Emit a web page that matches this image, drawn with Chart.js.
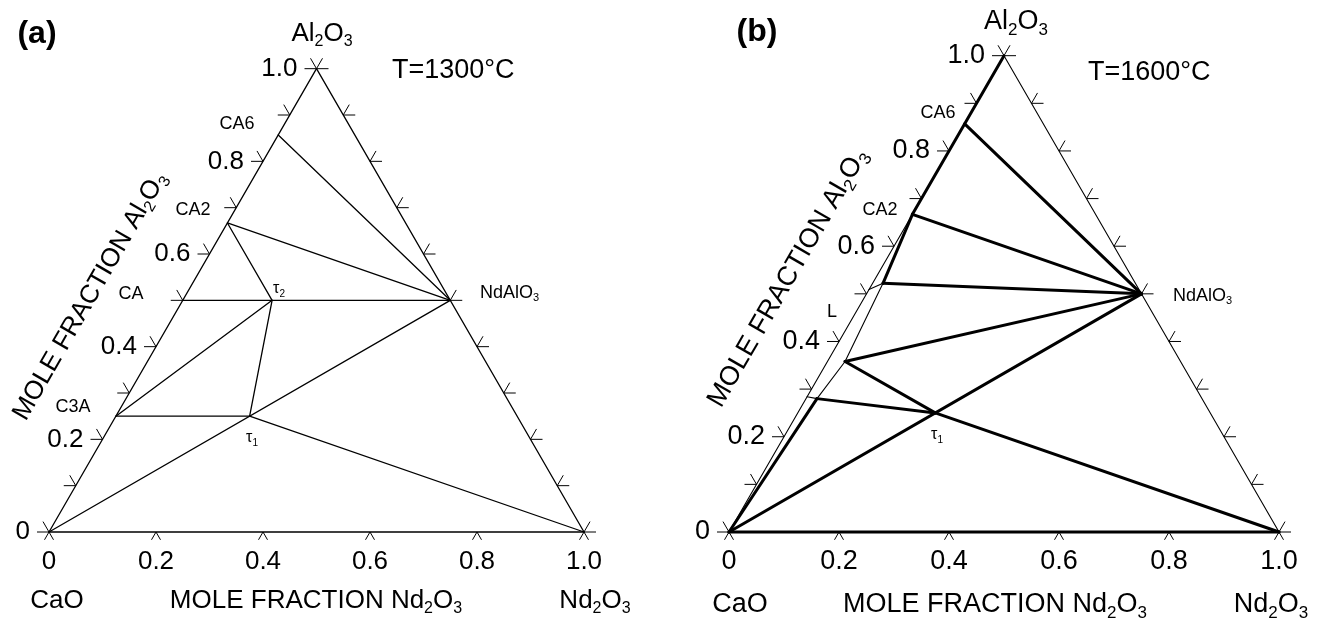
<!doctype html>
<html>
<head>
    <meta charset="utf-8">
    <title>CaO - Nd2O3 - Al2O3 isothermal sections</title>
    <script src="https://cdn.jsdelivr.net/npm/chart.js"></script>
    <style>
        body { margin: 0; background: #fff; }
        #wrap { width: 1318px; height: 619px; }
    </style>
</head>
<body>
<div id="wrap"><canvas id="myChart" width="1318" height="619"></canvas></div>

<script>
    // ---- data (mole fractions: Nd2O3, Al2O3; CaO is the rest) ----
    var axisLabelTicks = [0, 0.2, 0.4, 0.6, 0.8, 1.0];
    var axisLabelText = ['0', '0.2', '0.4', '0.6', '0.8', '1.0'];
    var sideTicks = [0, 0.1, 0.2, 0.3, 0.4, 0.5, 0.6, 0.7, 0.8, 0.9, 1.0];
    var bottomTicks = [0, 0.2, 0.4, 0.6, 0.8, 1.0];

    // panel (a) T = 1300 C
    var nodesA = ['CaO', 'Nd2O3', 'Al2O3', 'CA6', 'CA2', 'CA', 'C3A', 'tau2', 'tau1', 'NdAlO3'];
    var ndA = [0, 1, 0, 0, 0, 0, 0, 0.167, 0.25, 0.5];
    var alA = [0, 0, 1, 0.857, 0.667, 0.5, 0.25, 0.5, 0.25, 0.5];
    var linesA = [
        ['CaO', 'Nd2O3'], ['CaO', 'Al2O3'], ['Al2O3', 'Nd2O3'],
        ['CA6', 'NdAlO3'], ['CA2', 'NdAlO3'], ['CA2', 'tau2'], ['CA', 'NdAlO3'],
        ['C3A', 'tau2'], ['tau2', 'tau1'], ['C3A', 'tau1'], ['CaO', 'NdAlO3'], ['tau1', 'Nd2O3']
    ];

    // panel (b) T = 1600 C
    var nodesB = ['CaO', 'Nd2O3', 'Al2O3', 'CA6', 'CA2', 'tau1', 'NdAlO3', 'E1', 'Lp3', 'Lp2', 'Lp1', 'E2'];
    var ndB = [0, 1, 0, 0, 0, 0.25, 0.5, 0, 0.02, 0.032, 0.019, 0];
    var alB = [0, 0, 1, 0.857, 0.667, 0.25, 0.5, 0.284, 0.28, 0.358, 0.522, 0.509];
    var thinLinesB = [
        ['CaO', 'Al2O3'], ['Al2O3', 'Nd2O3'],
        ['E1', 'Lp3'], ['Lp3', 'Lp2'], ['Lp2', 'Lp1'], ['Lp1', 'E2']
    ];
    var thickLinesB = [
        ['CaO', 'Nd2O3'], ['Al2O3', 'CA2'], ['CA2', 'Lp1'], ['CaO', 'Lp3'],
        ['CA6', 'NdAlO3'], ['CA2', 'NdAlO3'], ['Lp1', 'NdAlO3'], ['Lp2', 'NdAlO3'],
        ['CaO', 'NdAlO3'], ['Lp2', 'tau1'], ['Lp3', 'tau1'], ['tau1', 'Nd2O3']
    ];

    // ---- layout ----
    var W = 1318, H = 619;
    var FONT = '"Liberation Sans", Arial, Helvetica, sans-serif';
    var panels = [
        {
            x: 'xa', y: 'ya', ox: 49, oy: 532, side: 535, labelSize: 26,
            tag: ['(a)', 37, 34], top: ['Al_2O_3', 322, 34], temp: ['T=1300°C', 392, 71],
            corners: [['CaO', 57, 601], ['MOLE FRACTION Nd_2O_3', 316, 601], ['Nd_2O_3', 595, 601]],
            sideTitle: ['MOLE FRACTION Al_2O_3', 90, 296],
            notes: [['CA6', 237, 124, 18, 'center'], ['CA2', 193, 210, 18, 'center'], ['CA', 131, 294, 18, 'center'],
                ['C3A', 73, 407, 18, 'center'], ['NdAlO_3', 480, 293, 18, 'left'],
                ['τ_2', 279, 289, 16, 'center'], ['τ_1', 252, 438, 16, 'center']]
        },
        {
            x: 'xb', y: 'yb', ox: 729, oy: 532, side: 550, labelSize: 27,
            tag: ['(b)', 757, 32], top: ['Al_2O_3', 1016, 22], temp: ['T=1600°C', 1088, 73],
            corners: [['CaO', 740, 605], ['MOLE FRACTION Nd_2O_3', 995, 605], ['Nd_2O_3', 1271, 605]],
            sideTitle: ['MOLE FRACTION Al_2O_3', 788, 278],
            notes: [['CA6', 938, 113, 18, 'center'], ['CA2', 880, 210, 18, 'center'], ['L', 832, 312, 18, 'center'],
                ['NdAlO_3', 1173, 296, 18, 'left'], ['τ_1', 937, 435, 16, 'center']]
        }
    ];

    function findNode(names, nd, al, key) {
        var i = names.indexOf(key);
        return {x: nd[i] + al[i] / 2, y: al[i]};
    }

    function segSets(names, nd, al, pairs, width, xId, yId) {
        return pairs.map(function (p) {
            return {
                data: [findNode(names, nd, al, p[0]), findNode(names, nd, al, p[1])],
                showLine: true,
                borderColor: '#000',
                borderWidth: width,
                borderCapStyle: 'round',
                pointRadius: 0,
                xAxisID: xId,
                yAxisID: yId
            };
        });
    }

    function scaleFor(p, axis) {
        if (axis === 'x') {
            return {type: 'linear', display: false, min: -p.ox / p.side, max: (W - p.ox) / p.side};
        }
        var h = p.side * Math.sqrt(3) / 2;
        return {type: 'linear', display: false, min: -(H - p.oy) / h, max: p.oy / h};
    }

    // text with _n subscripts
    function drawRich(ctx, text, x, y, size, align, bold) {
        var parts = [];
        text.split(/(_\d)/).forEach(function (s) {
            if (!s) return;
            if (s.charAt(0) === '_') parts.push({t: s.slice(1), sub: true});
            else parts.push({t: s, sub: false});
        });
        var subSize = Math.round(size * 0.62);
        var total = 0;
        parts.forEach(function (pt) {
            ctx.font = (bold ? 'bold ' : '') + (pt.sub ? subSize : size) + 'px ' + FONT;
            pt.w = ctx.measureText(pt.t).width;
            total += pt.w;
        });
        var cx = x;
        if (align === 'center') cx = x - total / 2;
        else if (align === 'right') cx = x - total;
        ctx.textAlign = 'left';
        ctx.textBaseline = 'middle';
        parts.forEach(function (pt) {
            ctx.font = (bold ? 'bold ' : '') + (pt.sub ? subSize : size) + 'px ' + FONT;
            ctx.fillText(pt.t, cx, pt.sub ? y + size * 0.3 : y);
            cx += pt.w;
        });
    }

    var ternaryDecor = {
        id: 'ternaryDecor',
        afterDatasetsDraw: function (chart) {
            var ctx = chart.ctx;
            ctx.save();
            ctx.fillStyle = '#000';
            ctx.strokeStyle = '#000';
            panels.forEach(function (p) {
                var sx = chart.scales[p.x], sy = chart.scales[p.y];
                var pix = function (nd, al) {
                    return [sx.getPixelForValue(nd + al / 2), sy.getPixelForValue(al)];
                };
                var L = 12, B = 9, c = Math.sqrt(3) / 2;
                ctx.lineWidth = 1;
                ctx.beginPath();
                sideTicks.forEach(function (a) {
                    var l = pix(0, a), r = pix(1 - a, a);
                    ctx.moveTo(l[0], l[1]); ctx.lineTo(l[0] - L, l[1]);
                    ctx.moveTo(l[0], l[1]); ctx.lineTo(l[0] - L / 2, l[1] - L * c);
                    ctx.moveTo(r[0], r[1]); ctx.lineTo(r[0] + L, r[1]);
                    ctx.moveTo(r[0], r[1]); ctx.lineTo(r[0] + L / 2, r[1] - L * c);
                });
                bottomTicks.forEach(function (n) {
                    var b = pix(n, 0);
                    ctx.moveTo(b[0], b[1]); ctx.lineTo(b[0] - B / 2, b[1] + B * c);
                    ctx.moveTo(b[0], b[1]); ctx.lineTo(b[0] + B / 2, b[1] + B * c);
                });
                ctx.stroke();

                axisLabelTicks.forEach(function (v, i) {
                    var l = pix(0, v);
                    drawRich(ctx, axisLabelText[i], l[0] - 19, l[1], p.labelSize, 'right');
                    var b = pix(v, 0);
                    drawRich(ctx, axisLabelText[i], b[0], b[1] + 30, p.labelSize, 'center');
                });

                drawRich(ctx, p.tag[0], p.tag[1], p.tag[2], 32, 'center', true);
                drawRich(ctx, p.top[0], p.top[1], p.top[2], p.labelSize, 'center');
                drawRich(ctx, p.temp[0], p.temp[1], p.temp[2], 27, 'left');
                p.corners.forEach(function (t) {
                    drawRich(ctx, t[0], t[1], t[2], p.labelSize, 'center');
                });
                p.notes.forEach(function (t) {
                    drawRich(ctx, t[0], t[1], t[2], t[3], t[4]);
                });
                ctx.save();
                ctx.translate(p.sideTitle[1], p.sideTitle[2]);
                ctx.rotate(-Math.PI / 3);
                drawRich(ctx, p.sideTitle[0], 0, 0, p.labelSize, 'center');
                ctx.restore();
            });
            ctx.restore();
        }
    };

    var datasets = []
        .concat(segSets(nodesA, ndA, alA, linesA, 1.3, 'xa', 'ya'))
        .concat(segSets(nodesB, ndB, alB, thinLinesB, 1.1, 'xb', 'yb'))
        .concat(segSets(nodesB, ndB, alB, thickLinesB, 3, 'xb', 'yb'));

    var chart = new Chart(document.getElementById('myChart'), {
        type: 'scatter',
        data: {datasets: datasets},
        options: {
            responsive: false,
            animation: false,
            devicePixelRatio: 1,
            layout: {padding: 0},
            plugins: {legend: {display: false}, tooltip: {enabled: false}, title: {display: false}},
            scales: {
                xa: scaleFor(panels[0], 'x'),
                ya: scaleFor(panels[0], 'y'),
                xb: scaleFor(panels[1], 'x'),
                yb: scaleFor(panels[1], 'y')
            }
        },
        plugins: [ternaryDecor]
    });
</script>
</body>
</html>
